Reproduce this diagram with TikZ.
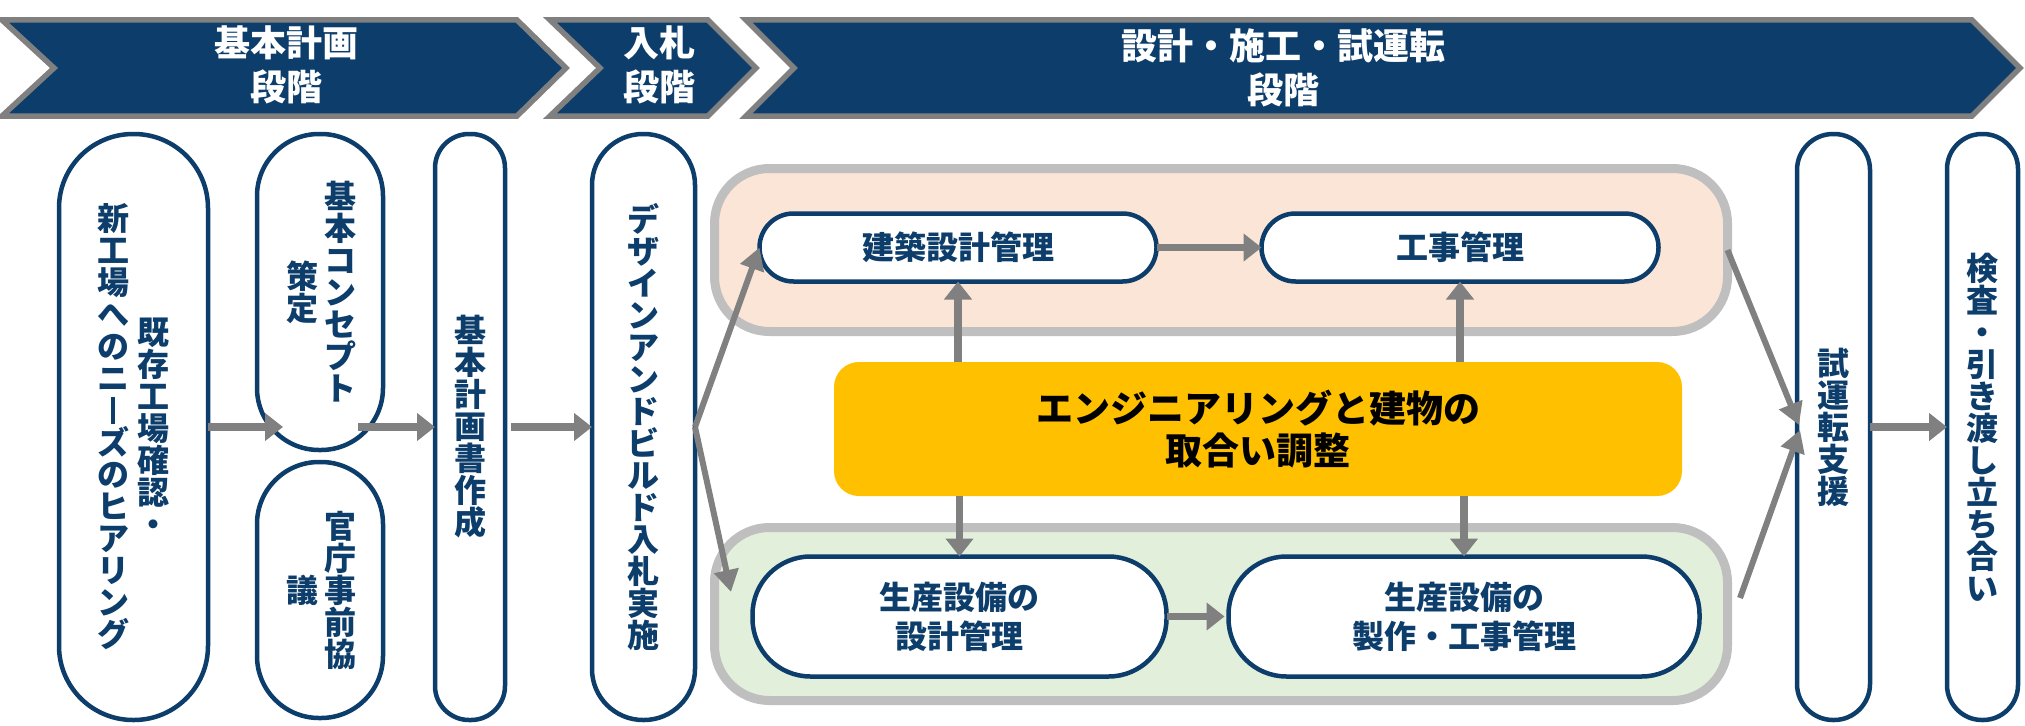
\documentclass[tikz,border=0pt]{standalone}
\usepackage{fontspec}
\usepackage{graphicx}
\setmainfont{Noto Sans CJK JP}
\usetikzlibrary{arrows.meta}

\definecolor{navy}{RGB}{12,61,107}
\definecolor{chgray}{RGB}{128,128,128}
\definecolor{arrgray}{RGB}{128,128,128}
\definecolor{grpgray}{RGB}{191,191,191}
\definecolor{pinkbg}{RGB}{251,229,214}
\definecolor{greenbg}{RGB}{226,239,218}
\definecolor{yellowc}{RGB}{255,192,0}

% vertical (tategaki) text: one character per row
\def\vtaux#1{\ifx#1\relax\else\hbox to 1em{\hss#1\hss}\expandafter\vtaux\fi}
\newcommand\vt[1]{\vbox{\baselineskip=1em\lineskiplimit=-100pt\lineskip=0pt\vtaux#1\relax}}
\newcommand\VL{\rule[-0.04em]{0.1em}{0.84em}}

\tikzset{
  pill/.style={draw=navy, line width=4.5pt, fill=white, inner sep=0pt, outer sep=0pt},
  vtxt/.style={inner sep=0pt, outer sep=0pt, text=navy, font=\fontsize{32}{32}\selectfont\bfseries},
  chtxt/.style={inner sep=0pt, text=white, align=center, font=\fontsize{36}{44}\selectfont\bfseries},
  chev/.style={fill=navy, draw=chgray, line width=5.5pt},
  grp/.style={draw=grpgray, line width=9pt, rounded corners=55pt, inner sep=0pt, outer sep=0pt},
  ibox/.style={draw=navy, line width=4.5pt, fill=white, inner sep=0pt, outer sep=0pt, align=center, text=navy, font=\fontsize{32}{39}\selectfont\bfseries},
  ybox/.style={fill=yellowc, inner sep=0pt, outer sep=0pt, rounded corners=25pt, align=center, text=black, font=\fontsize{37}{42}\selectfont\bfseries},
  garrowA/.style={draw=arrgray, line width=7.5pt, -{Triangle[length=18pt,width=27pt]}},
  garrowB/.style={draw=arrgray, line width=6pt, -{Triangle[length=22pt,width=24pt]}},
}

\begin{document}
\begin{tikzpicture}[x=1pt,y=-1pt]
\useasboundingbox (0,0) rectangle (2025,725);
\fill[white] (0,0) rectangle (2025,725);

% ---- phase chevrons ----
\draw[chev] (2,20) -- (517,20) -- (566,68) -- (517,116) -- (2,116) -- (54,68) -- cycle;
\draw[chev] (550,20) -- (708,20) -- (756,68) -- (708,116) -- (550,116) -- (600,68) -- cycle;
\draw[chev] (746,20) -- (1972,20) -- (2020,68) -- (1972,116) -- (746,116) -- (794,68) -- cycle;
\node[chtxt] (C1t) at (286,65) {基本計画\\段階};
\node[chtxt] (C2t) at (659,65) {入札\\段階};
\node[chtxt] (C3t) at (1283,68) {設計・施工・試運転\\段階};

% ---- vertical pills ----
\node[pill, minimum width=149pt, minimum height=586pt, rounded corners=74pt] (P1) at (133.5,427) {};
\node[vtxt] (P1a) at (153,427) {\vt{既存工場確認・}};
\node[vtxt] (P1b) at (113,427) {\vt{新工場へのニ\VL ズのヒアリング}};

\node[pill, minimum width=126pt, minimum height=316pt, rounded corners=62pt] (P2) at (320,292) {};
\node[vtxt] (P2a) at (340,292) {\vt{基本コンセプト}};
\node[vtxt] (P2b) at (302,292) {\vt{策定}};

\node[pill, minimum width=126pt, minimum height=256pt, rounded corners=62pt] (P3) at (320,590) {};
\node[vtxt] (P3a) at (340,590) {\vt{官庁事前協}};
\node[vtxt] (P3b) at (302,590) {\vt{議}};

\node[pill, minimum width=70pt, minimum height=586pt, rounded corners=34pt] (P4) at (470,427) {};
\node[vtxt] (P4a) at (470,427) {\vt{基本計画書作成}};

\node[pill, minimum width=103pt, minimum height=586pt, rounded corners=51pt] (P5) at (643.5,427) {};
\node[vtxt] (P5a) at (643.5,427) {\vt{デザインアンドビルド入札実施}};

\node[pill, minimum width=73pt, minimum height=586pt, rounded corners=36pt] (P6) at (1833.5,427) {};
\node[vtxt] (P6a) at (1833.5,427) {\vt{試運転支援}};

\node[pill, minimum width=71pt, minimum height=586pt, rounded corners=35pt] (P7) at (1982.5,427) {};
\node[vtxt] (P7a) at (1982.5,427) {\vt{検査・引き渡し立ち合い}};

% ---- groups ----
\node[grp, fill=pinkbg, minimum width=1013pt, minimum height=163pt] (G1) at (1221,250) {};
\node[grp, fill=greenbg, minimum width=1013pt, minimum height=173pt] (G2) at (1221,614) {};

\node[ibox, minimum width=397pt, minimum height=68pt, rounded corners=34pt] (A1) at (958,247.5) {建築設計管理};
\node[ibox, minimum width=397pt, minimum height=68pt, rounded corners=34pt] (A2) at (1460,247.5) {工事管理};
\node[ibox, minimum width=414pt, minimum height=120pt, rounded corners=58pt] (B1) at (959.5,616.5) {生産設備の\\設計管理};
\node[ibox, minimum width=471pt, minimum height=120pt, rounded corners=58pt] (B2) at (1464,616.5) {生産設備の\\製作・工事管理};

\node[ybox, minimum width=848pt, minimum height=134pt] (Y) at (1258,429) {エンジニアリングと建物の\\取合い調整};

% ---- connectors ----
\coordinate (t12) at (283,427);
\coordinate (s24) at (358,427);
\coordinate (t5b) at (731,592);
\coordinate (s6b) at (1740,598);
\coordinate (t6a) at (1799,425);
\coordinate (t6b) at (1800,430);

\draw[garrowA] (P1.east) -- (t12);
\draw[garrowA] (s24) -- (P4.west);
\draw[garrowA, shorten <=6pt] (P4.east) -- (P5.west);
\draw[garrowB] (P5.east) -- (A1.west);
\draw[garrowB] (P5.east) -- (t5b);
\draw[garrowA] (A1.east) -- (A2.west);
\draw[garrowA, shorten >=4pt] (B1.east) -- (B2.west);
\draw[garrowA] (A1.south |- Y.north) -- (A1.south);
\draw[garrowA] (A2.south |- Y.north) -- (A2.south);
\draw[garrowA] (B1.north |- Y.south) -- (B1.north);
\draw[garrowA] (B2.north |- Y.south) -- (B2.north);
\draw[garrowB] (G1.east) -- (t6a);
\draw[garrowB] (s6b) -- (t6b);
\draw[garrowA] (P6.east) -- (P7.west);
\end{tikzpicture}
\end{document}
